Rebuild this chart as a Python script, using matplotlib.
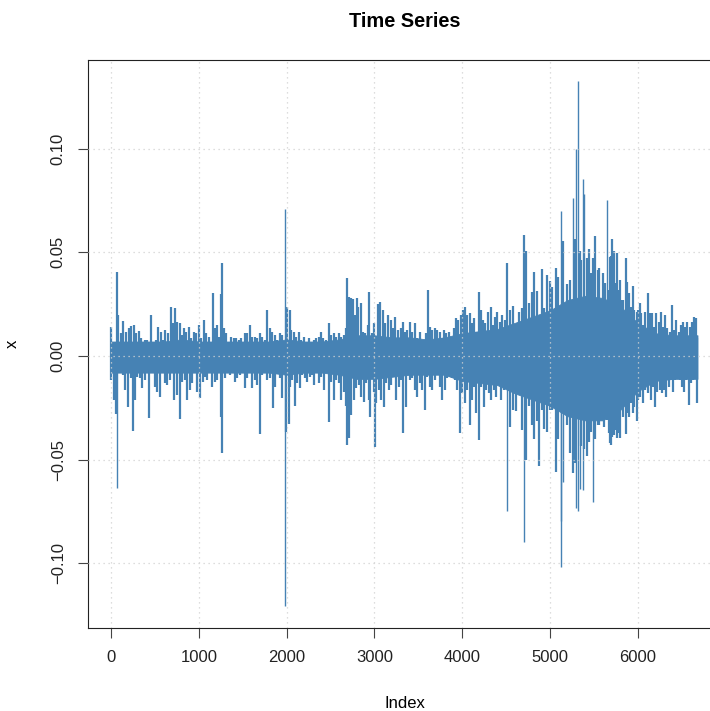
import numpy as np
import matplotlib.pyplot as plt

plt.rcParams["font.family"] = ["Liberation Sans", "DejaVu Sans"]

LINE = "#4682B4"  # steelblue

# dense core of the series (index, upper, lower)
core_idx = [1, 200, 400, 600, 800, 1000, 1200, 1400, 1600, 1800, 2000, 2200,
            2400, 2600, 2800, 3000, 3200, 3400, 3600, 3800, 4000, 4200, 4400,
            4600, 4800, 5000, 5200, 5400, 5600, 5800, 6000, 6200, 6400, 6600, 6680]
core_hi = [0.007, 0.007, 0.007, 0.007, 0.008, 0.007, 0.007, 0.007, 0.007, 0.007,
           0.008, 0.007, 0.007, 0.008, 0.010, 0.010, 0.009, 0.009, 0.008, 0.009,
           0.011, 0.012, 0.013, 0.016, 0.019, 0.022, 0.027, 0.029, 0.028, 0.024,
           0.016, 0.011, 0.010, 0.010, 0.010]
core_lo = [-0.008, -0.008, -0.008, -0.008, -0.008, -0.008, -0.008, -0.008, -0.008, -0.008,
           -0.009, -0.008, -0.008, -0.009, -0.011, -0.011, -0.010, -0.009, -0.009, -0.009,
           -0.012, -0.013, -0.014, -0.018, -0.021, -0.024, -0.029, -0.031, -0.031, -0.026,
           -0.017, -0.012, -0.011, -0.011, -0.011]

# positive excursions
up_idx = [4, 65, 80, 110, 137, 175, 201, 232, 262, 289, 315, 345, 383, 414, 452, 478,
          516, 535, 566, 592, 619, 649, 680, 706, 725, 756, 782, 809, 832, 858, 885,
          915, 946, 972, 999, 1029, 1059, 1086, 1112, 1166, 1180, 1205, 1230, 1250,
          1261, 1287, 1314, 1340, 1371, 1401, 1428, 1454, 1485, 1523, 1553, 1580, 1606,
          1636, 1663, 1693, 1720, 1750, 1780, 1807, 1833, 1864, 1894, 1921, 1947, 1982,
          2008, 2035, 2054, 2084, 2111, 2137, 2168, 2198, 2225, 2251, 2282, 2312, 2338,
          2365, 2388, 2414, 2452, 2479, 2509, 2540, 2566, 2593, 2623, 2654, 2680, 2692,
          2715, 2730, 2752, 2783, 2797, 2813, 2843, 2870, 2897, 2927, 2942, 2973, 2995,
          3022, 3045, 3065, 3098, 3124, 3155, 3185, 3212, 3238, 3269, 3299, 3326, 3352,
          3375, 3402, 3429, 3459, 3489, 3516, 3542, 3565, 3592, 3611, 3630, 3656, 3687,
          3717, 3744, 3770, 3793, 3820, 3846, 3877, 3907, 3934, 3953, 3983, 4010, 4036,
          4059, 4085, 4112, 4135, 4161, 4188, 4211, 4237, 4264, 4294, 4325, 4351, 4378,
          4401, 4427, 4454, 4484,
          4505, 4543, 4582, 4648, 4680, 4708, 4725, 4760, 4797, 4821, 4857, 4907, 4935,
          4965, 5001, 5025, 5064, 5095, 5131, 5150, 5190, 5229, 5260, 5288, 5300, 5319,
          5340, 5359, 5377, 5390, 5417, 5445, 5465, 5495, 5511, 5543, 5563, 5602, 5625,
          5653, 5670, 5683, 5695, 5710, 5725, 5740, 5759, 5778, 5797, 5816, 5835, 5862,
          5880, 5903, 5922, 5941, 5960, 5987,
          6002, 6021, 6040, 6059, 6086, 6116, 6135, 6162, 6185, 6211, 6238, 6260, 6287,
          6306, 6336, 6363, 6390, 6412, 6439, 6466, 6488, 6515, 6541, 6564, 6591, 6617,
          6640, 6667, 6680]
up_val = [0.0138, 0.0407, 0.0198, 0.0109, 0.0171, 0.0117, 0.0133, 0.0145, 0.0150, 0.0109,
          0.0122, 0.0085, 0.0077, 0.0077, 0.0198, 0.0069, 0.0077, 0.0141, 0.0117, 0.0077,
          0.0125, 0.0109, 0.0235, 0.0158, 0.0230, 0.0166, 0.0161, 0.0101, 0.0133, 0.0117,
          0.0141, 0.0085, 0.0117, 0.0109, 0.0150, 0.0085, 0.0174, 0.0109, 0.0093, 0.0302,
          0.0133, 0.0150, 0.0093, 0.0300, 0.0447, 0.0133, 0.0109, 0.0069, 0.0093, 0.0085,
          0.0085, 0.0077, 0.0085, 0.0112, 0.0109, 0.0150, 0.0093, 0.0093, 0.0085, 0.0109,
          0.0093, 0.0077, 0.0222, 0.0133, 0.0117, 0.0101, 0.0077, 0.0109, 0.0101, 0.0707,
          0.0238, 0.0220, 0.0125, 0.0117, 0.0093, 0.0117, 0.0077, 0.0093, 0.0069, 0.0085,
          0.0069, 0.0077, 0.0085, 0.0093, 0.0117, 0.0085, 0.0077, 0.0158, 0.0101, 0.0109,
          0.0093, 0.0109, 0.0093, 0.0101, 0.0133, 0.0374, 0.0286, 0.0280, 0.0273, 0.0198,
          0.0279, 0.0238, 0.0257, 0.0117, 0.0109, 0.0150, 0.0310, 0.0109, 0.0158, 0.0093,
          0.0250, 0.0262, 0.0222, 0.0158, 0.0198, 0.0174, 0.0133, 0.0190, 0.0125, 0.0133,
          0.0166, 0.0117, 0.0125, 0.0165, 0.0117, 0.0157, 0.0085, 0.0117, 0.0077, 0.0061,
          0.0109, 0.0318, 0.0141, 0.0125, 0.0133, 0.0125, 0.0117, 0.0085, 0.0125, 0.0109,
          0.0117, 0.0093, 0.0133, 0.0182, 0.0174, 0.0198, 0.0222, 0.0238, 0.0198, 0.0206,
          0.0157, 0.0182, 0.0117, 0.0310, 0.0222, 0.0174, 0.0157, 0.0214, 0.0238, 0.0149,
          0.0190, 0.0214, 0.0165, 0.0198, 0.0174,
          0.0450, 0.0223, 0.0240, 0.0214, 0.0231, 0.0583, 0.0506, 0.0256, 0.0307, 0.0406,
          0.0315, 0.0418, 0.0231, 0.0390, 0.0360, 0.0331, 0.0423, 0.0382, 0.0697, 0.0555,
          0.0348, 0.0365, 0.0760, 0.0564, 0.0999, 0.1327, 0.0506, 0.0465, 0.0854, 0.0780,
          0.0473, 0.0515, 0.0398, 0.0473, 0.0580, 0.0415, 0.0423, 0.0400, 0.0350, 0.0750,
          0.0318, 0.0479, 0.0482, 0.0563, 0.0508, 0.0350, 0.0495, 0.0318, 0.0366, 0.0270,
          0.0270, 0.0471, 0.0358, 0.0302, 0.0238, 0.0338, 0.0222, 0.0214,
          0.0222, 0.0254, 0.0206, 0.0150, 0.0214, 0.0302, 0.0206, 0.0206, 0.0141, 0.0206,
          0.0166, 0.0214, 0.0141, 0.0198, 0.0133, 0.0117, 0.0246, 0.0125, 0.0174, 0.0117,
          0.0150, 0.0166, 0.0141, 0.0166, 0.0141, 0.0166, 0.0190, 0.0182, 0.0085]

# negative excursions
dn_idx = [4, 34, 53, 68, 99, 137, 163, 194, 224, 247, 277, 300, 327, 353, 383, 414, 433,
          467, 497, 528, 554, 581, 611, 642, 668, 695, 718, 748, 786, 809, 839, 870,
          896, 923, 953, 983, 1014, 1044, 1067, 1097, 1124, 1150, 1181, 1211, 1250,
          1261, 1295, 1325, 1352, 1378, 1409, 1432, 1466, 1492, 1523, 1553, 1580, 1606,
          1636, 1663, 1697, 1720, 1750, 1780, 1807, 1841, 1864, 1894, 1921, 1944, 1982,
          1995, 2025, 2035, 2061, 2092, 2122, 2149, 2175, 2206, 2236, 2263, 2289, 2312,
          2338, 2365, 2395, 2426, 2452, 2483, 2509, 2540, 2566, 2593, 2623, 2654, 2677,
          2692, 2715, 2730, 2767, 2794, 2821, 2851, 2881, 2908, 2935, 2950, 2995, 3007,
          3022, 3048, 3079, 3109, 3136, 3162, 3193, 3223, 3250, 3276, 3307, 3322, 3359,
          3402, 3429, 3459, 3489, 3516, 3542, 3573, 3603, 3630, 3656, 3687, 3717, 3744,
          3770, 3801, 3831, 3858, 3884, 3915, 3945, 3972, 3998, 4028, 4059, 4085, 4112,
          4135, 4161, 4188, 4218, 4249, 4275, 4302, 4332, 4363, 4389, 4416, 4446, 4477,
          4505, 4543, 4582, 4610, 4648, 4680, 4708, 4725, 4760, 4797, 4821, 4857, 4877,
          4907, 4935, 4965, 5001, 5025, 5064, 5095, 5120, 5131, 5150, 5190, 5229, 5260,
          5288, 5300, 5319, 5340, 5359, 5377, 5390, 5417, 5445, 5465, 5495, 5511, 5543,
          5563, 5602, 5613, 5645, 5670, 5683, 5695, 5710, 5725, 5740, 5759, 5778, 5797,
          5816, 5835, 5862, 5880, 5903, 5922, 5941, 5960, 5987,
          6002, 6021, 6059, 6086, 6116, 6147, 6173, 6200, 6223, 6249, 6276, 6298, 6325,
          6352, 6374, 6401, 6428, 6450, 6477, 6503, 6526, 6553, 6579, 6602, 6629, 6655,
          6678]
dn_val = [-0.0116, -0.0212, -0.0280, -0.0637, -0.0075, -0.0092, -0.0164, -0.0244, -0.0108,
          -0.0360, -0.0212, -0.0100, -0.0108, -0.0156, -0.0116, -0.0067, -0.0297, -0.0075,
          -0.0148, -0.0172, -0.0196, -0.0059, -0.0132, -0.0140, -0.0116, -0.0067, -0.0212,
          -0.0188, -0.0304, -0.0124, -0.0116, -0.0212, -0.0164, -0.0132, -0.0075, -0.0172,
          -0.0204, -0.0124, -0.0100, -0.0116, -0.0075, -0.0148, -0.0124, -0.0116, -0.0292,
          -0.0469, -0.0108, -0.0075, -0.0092, -0.0067, -0.0124, -0.0108, -0.0092, -0.0075,
          -0.0156, -0.0108, -0.0084, -0.0156, -0.0116, -0.0140, -0.0378, -0.0092, -0.0075,
          -0.0116, -0.0108, -0.0252, -0.0148, -0.0075, -0.0108, -0.0203, -0.1206, -0.0365,
          -0.0329, -0.0148, -0.0116, -0.0240, -0.0132, -0.0156, -0.0092, -0.0108, -0.0124,
          -0.0100, -0.0092, -0.0140, -0.0075, -0.0132, -0.0100, -0.0164, -0.0075, -0.0316,
          -0.0124, -0.0212, -0.0116, -0.0132, -0.0212, -0.0172, -0.0240, -0.0429, -0.0397,
          -0.0285, -0.0212, -0.0156, -0.0140, -0.0196, -0.0220, -0.0132, -0.0212, -0.0292,
          -0.0172, -0.0437, -0.0228, -0.0164, -0.0212, -0.0244, -0.0132, -0.0164, -0.0140,
          -0.0100, -0.0212, -0.0148, -0.0116, -0.0370, -0.0248, -0.0116, -0.0108, -0.0164,
          -0.0196, -0.0132, -0.0164, -0.0260, -0.0100, -0.0148, -0.0164, -0.0116, -0.0084,
          -0.0148, -0.0212, -0.0164, -0.0108, -0.0100, -0.0108, -0.0116, -0.0164, -0.0370,
          -0.0180, -0.0228, -0.0164, -0.0333, -0.0212, -0.0148, -0.0277, -0.0405, -0.0148,
          -0.0244, -0.0164, -0.0180, -0.0212, -0.0164, -0.0196, -0.0132, -0.0212, -0.0164,
          -0.0745, -0.0340, -0.0258, -0.0266, -0.0183, -0.0357, -0.0897, -0.0499, -0.0240,
          -0.0333, -0.0399, -0.0315, -0.0528, -0.0258, -0.0350, -0.0366, -0.0258, -0.0258,
          -0.0557, -0.0399, -0.0797, -0.1017, -0.0607, -0.0333, -0.0466, -0.0565, -0.0515,
          -0.0731, -0.0745, -0.0640, -0.0432, -0.0648, -0.0450, -0.0482, -0.0416, -0.0366,
          -0.0706, -0.0400, -0.0333, -0.0333, -0.0299, -0.0340, -0.0309, -0.0373, -0.0421,
          -0.0430, -0.0389, -0.0381, -0.0357, -0.0397, -0.0373, -0.0397, -0.0228, -0.0292,
          -0.0376, -0.0276, -0.0292, -0.0228, -0.0276, -0.0244, -0.0312,
          -0.0212, -0.0196, -0.0228, -0.0164, -0.0180, -0.0212, -0.0148, -0.0244, -0.0172,
          -0.0164, -0.0180, -0.0164, -0.0196, -0.0148, -0.0116, -0.0172, -0.0116, -0.0100,
          -0.0116, -0.0148, -0.0172, -0.0116, -0.0236, -0.0132, -0.0116, -0.0108, -0.0228]

x_ticks = [0, 1000, 2000, 3000, 4000, 5000, 6000]
y_ticks = [-0.10, -0.05, 0.00, 0.05, 0.10]
y_labels = ["\u22120.10", "\u22120.05", "0.00", "0.05", "0.10"]


def widths(vals):
    # the largest isolated moves read as hairlines, the busy band as thicker strokes
    v = np.abs(np.asarray(vals))
    return np.where(v > 0.06, 1.0, 1.6)


def main():
    fig = plt.figure(figsize=(7.1, 7.11), dpi=100)
    # plot region runs past the right edge of the canvas
    ax = fig.add_axes([88 / 710, 83 / 711, 633 / 710, 568 / 711])

    ax.fill_between(core_idx, core_lo, core_hi, color=LINE, lw=0.6, zorder=1)
    ax.vlines(up_idx, 0, up_val, color=LINE, linewidths=widths(up_val), zorder=2)
    ax.vlines(dn_idx, 0, dn_val, color=LINE, linewidths=widths(dn_val), zorder=2)

    ax.set_xlim(-262, 6948)
    ax.set_ylim(-0.1311, 0.1427)
    ax.set_xticks(x_ticks)
    ax.set_xticklabels([str(t) for t in x_ticks])
    ax.set_yticks(y_ticks)
    ax.set_yticklabels(y_labels, rotation=90, va="center")

    # dotted light grid drawn over the series
    for t in x_ticks:
        ax.axvline(t, color="lightgray", lw=0.9, ls=(0, (1, 3)), zorder=3)
    for t in y_ticks:
        ax.axhline(t, color="lightgray", lw=0.9, ls=(0, (1, 3)), zorder=3)

    for s in ax.spines.values():
        s.set_linewidth(0.8)
        s.set_color("#222222")
    ax.tick_params(direction="out", length=7, width=0.8, labelsize=12,
                   color="#444444", labelcolor="#222222", pad=9)

    ax.set_title("Time Series", fontsize=14.4, fontweight="bold", pad=24)
    ax.set_xlabel("Index", fontsize=12, labelpad=22)
    ax.set_ylabel("x", fontsize=12, labelpad=22)

    fig.savefig("out.png", dpi=100)
    plt.close(fig)


if __name__ == "__main__":
    main()
